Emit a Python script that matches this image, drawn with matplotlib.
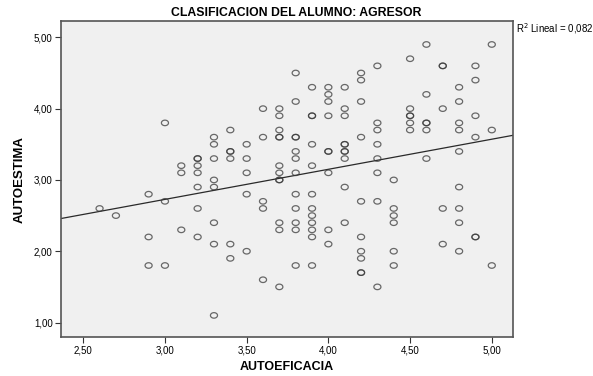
import numpy as np
import matplotlib
matplotlib.use("Agg")
import matplotlib.pyplot as plt

# AUTOEFICACIA (x) / AUTOESTIMA (y), read column by column
x = ([2.6, 2.7] + [2.9]*3 + [3.0]*3 + [3.1]*3 + [3.2]*7 + [3.3]*8 + [3.4]*6 + [3.5]*5 +
     [3.6]*5 + [3.7]*12 + [3.8]*12 + [3.9]*12 + [4.0]*9 + [4.1]*10 + [4.2]*10 + [4.3]*8 +
     [4.4]*6 + [4.5]*6 + [4.6]*6 + [4.7]*5 + [4.8]*9 + [4.9]*6 + [5.0]*3)
y = ([2.6, 2.5,
      2.8, 2.2, 1.8,
      3.8, 2.7, 1.8,
      3.2, 3.1, 2.3,
      3.3, 3.3, 3.2, 3.1, 2.9, 2.6, 2.2,
      3.6, 3.5, 3.3, 3.0, 2.9, 2.4, 2.1, 1.1,
      3.7, 3.4, 3.4, 3.3, 2.1, 1.9,
      3.5, 3.3, 3.1, 2.8, 2.0,
      4.0, 3.6, 2.7, 2.6, 1.6,
      4.0, 3.9, 3.7, 3.6, 3.6, 3.2, 3.1, 3.0, 3.0, 2.4, 2.3, 1.5,
      4.5, 4.1, 3.6, 3.6, 3.4, 3.3, 3.1, 2.8, 2.6, 2.4, 2.3, 1.8,
      4.3, 3.9, 3.9, 3.5, 3.2, 2.8, 2.6, 2.5, 2.4, 2.3, 2.2, 1.8,
      4.3, 4.2, 4.1, 3.9, 3.4, 3.4, 3.1, 2.3, 2.1,
      4.3, 4.0, 3.9, 3.5, 3.5, 3.4, 3.4, 3.3, 2.9, 2.4,
      4.5, 4.4, 4.1, 3.6, 2.7, 2.2, 2.0, 1.9, 1.7, 1.7,
      4.6, 3.8, 3.7, 3.5, 3.3, 3.1, 2.7, 1.5,
      3.0, 2.6, 2.5, 2.4, 2.0, 1.8,
      4.7, 4.0, 3.9, 3.9, 3.8, 3.7,
      4.9, 4.2, 3.8, 3.8, 3.7, 3.3,
      4.6, 4.6, 4.0, 2.6, 2.1,
      4.3, 4.1, 3.8, 3.7, 3.4, 2.9, 2.6, 2.4, 2.0,
      4.6, 4.4, 3.9, 3.6, 2.2, 2.2,
      4.9, 3.7, 1.8])
x = np.array(x)
y = np.array(y)

xticks = [2.5, 3.0, 3.5, 4.0, 4.5, 5.0]
yticks = [1.0, 2.0, 3.0, 4.0, 5.0]

plt.rcParams['font.family'] = ['Liberation Sans', 'DejaVu Sans']

fig = plt.figure(figsize=(5.93, 3.76), dpi=100)
ax = fig.add_axes([0.1029, 0.1037, 0.7617, 0.8404])
ax.set_facecolor('#f0f0f0')

t = np.linspace(0, 2*np.pi, 40)
ellipse = np.column_stack([np.cos(t), 0.78*np.sin(t)])
ax.scatter(x, y, marker=ellipse, s=26, facecolors='none', edgecolors='#3a3a3a',
           linewidths=0.9, alpha=0.75, zorder=3)

# least squares line
b, a = np.polyfit(x, y, 1)
xl = np.array([2.364, 5.128])
ax.plot(xl, a + b*xl, color='#2a2a2a', lw=0.9, zorder=2)

ax.set_xlim(2.364, 5.128)
ax.set_ylim(0.797, 5.229)
ax.set_xticks(xticks)
ax.set_yticks(yticks)
ax.set_xticklabels([f"{v:.2f}".replace('.', ',') for v in xticks])
ax.set_yticklabels([f"{v:.2f}".replace('.', ',') for v in yticks])
ax.tick_params(labelsize=7, length=4.5, width=0.8, color='#333333', pad=1.5)
for s in ax.spines.values():
    s.set_color('#555555')
    s.set_linewidth(1.2)

ax.set_xlabel('AUTOEFICACIA', fontsize=9, fontweight='bold', labelpad=4)
ax.set_ylabel('AUTOESTIMA', fontsize=9.5, fontweight='bold', labelpad=6)
fig.text(0.5, 0.965, 'CLASIFICACION DEL ALUMNO: AGRESOR', fontsize=8.8,
         fontweight='bold', ha='center', va='center')
fig.text(0.870, 0.925, 'R$^2$ Lineal = 0,082', fontsize=7, ha='left', va='center')

fig.savefig('out.png', dpi=100)
